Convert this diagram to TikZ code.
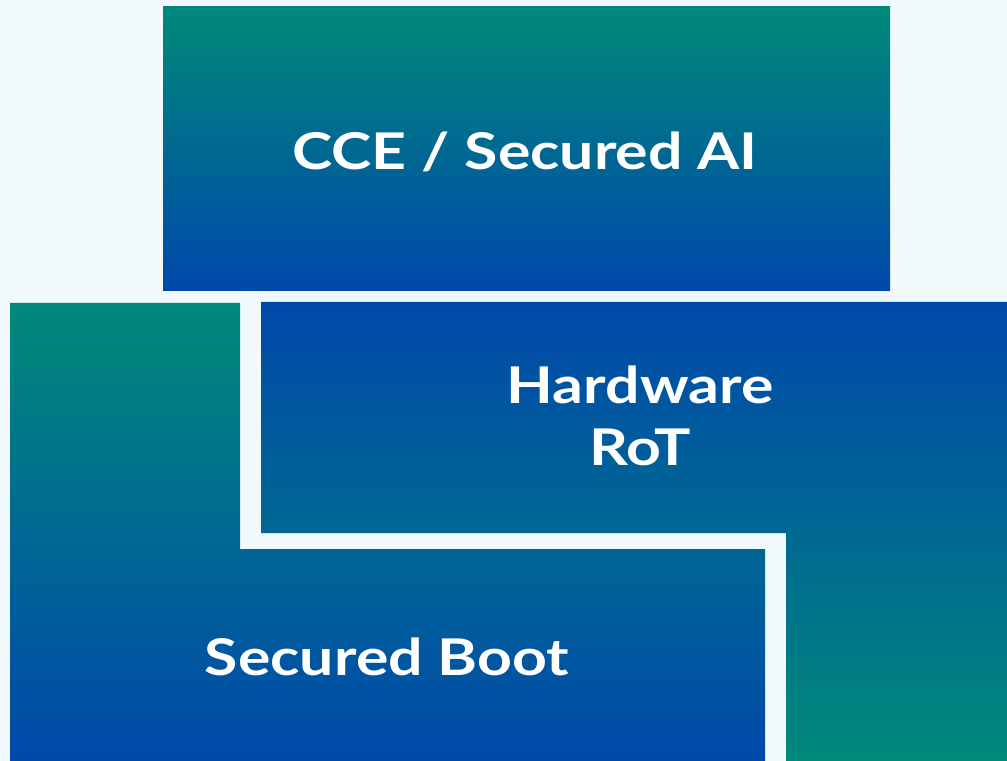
\documentclass[tikz,border=0pt]{standalone}
\usepackage{fontspec}
\setmainfont{Lato}
\newfontfamily\lblfont{Lato}[FakeStretch=1.2]
\definecolor{tealc}{RGB}{0,137,122}
\definecolor{bluec}{RGB}{0,72,170}
\definecolor{bgc}{RGB}{242,249,252}
\tikzset{
  lbl/.style={text=white, font=\lblfont\fontsize{36}{44}\selectfont\bfseries, align=center, inner sep=0pt},
  tb/.style={top color=tealc, bottom color=bluec},
  bt/.style={top color=bluec, bottom color=tealc}
}
\begin{document}
\begin{tikzpicture}[x=0.025cm,y=-0.025cm]
\fill[bgc] (0,0) rectangle (1007,761);
\useasboundingbox (0,0) rectangle (1007,761);
% top block
\shade[tb] (163,7) rectangle (890,291);
% left L (Secured Boot)
\shade[tb] (10,303) -- (240,303) -- (240,549) -- (765,549) -- (765,761) -- (10,761) -- cycle;
% right L (Hardware RoT)
\shade[bt] (261,302) -- (1007,302) -- (1007,761) -- (786,761) -- (786,533) -- (261,533) -- cycle;
\node[lbl] (cce) at (525,152) {CCE / Secured AI};
\node[lbl] (hw) at (640,416) {Hardware\\RoT};
\node[lbl] (sb) at (387,657) {Secured Boot};
\end{tikzpicture}
\end{document}
